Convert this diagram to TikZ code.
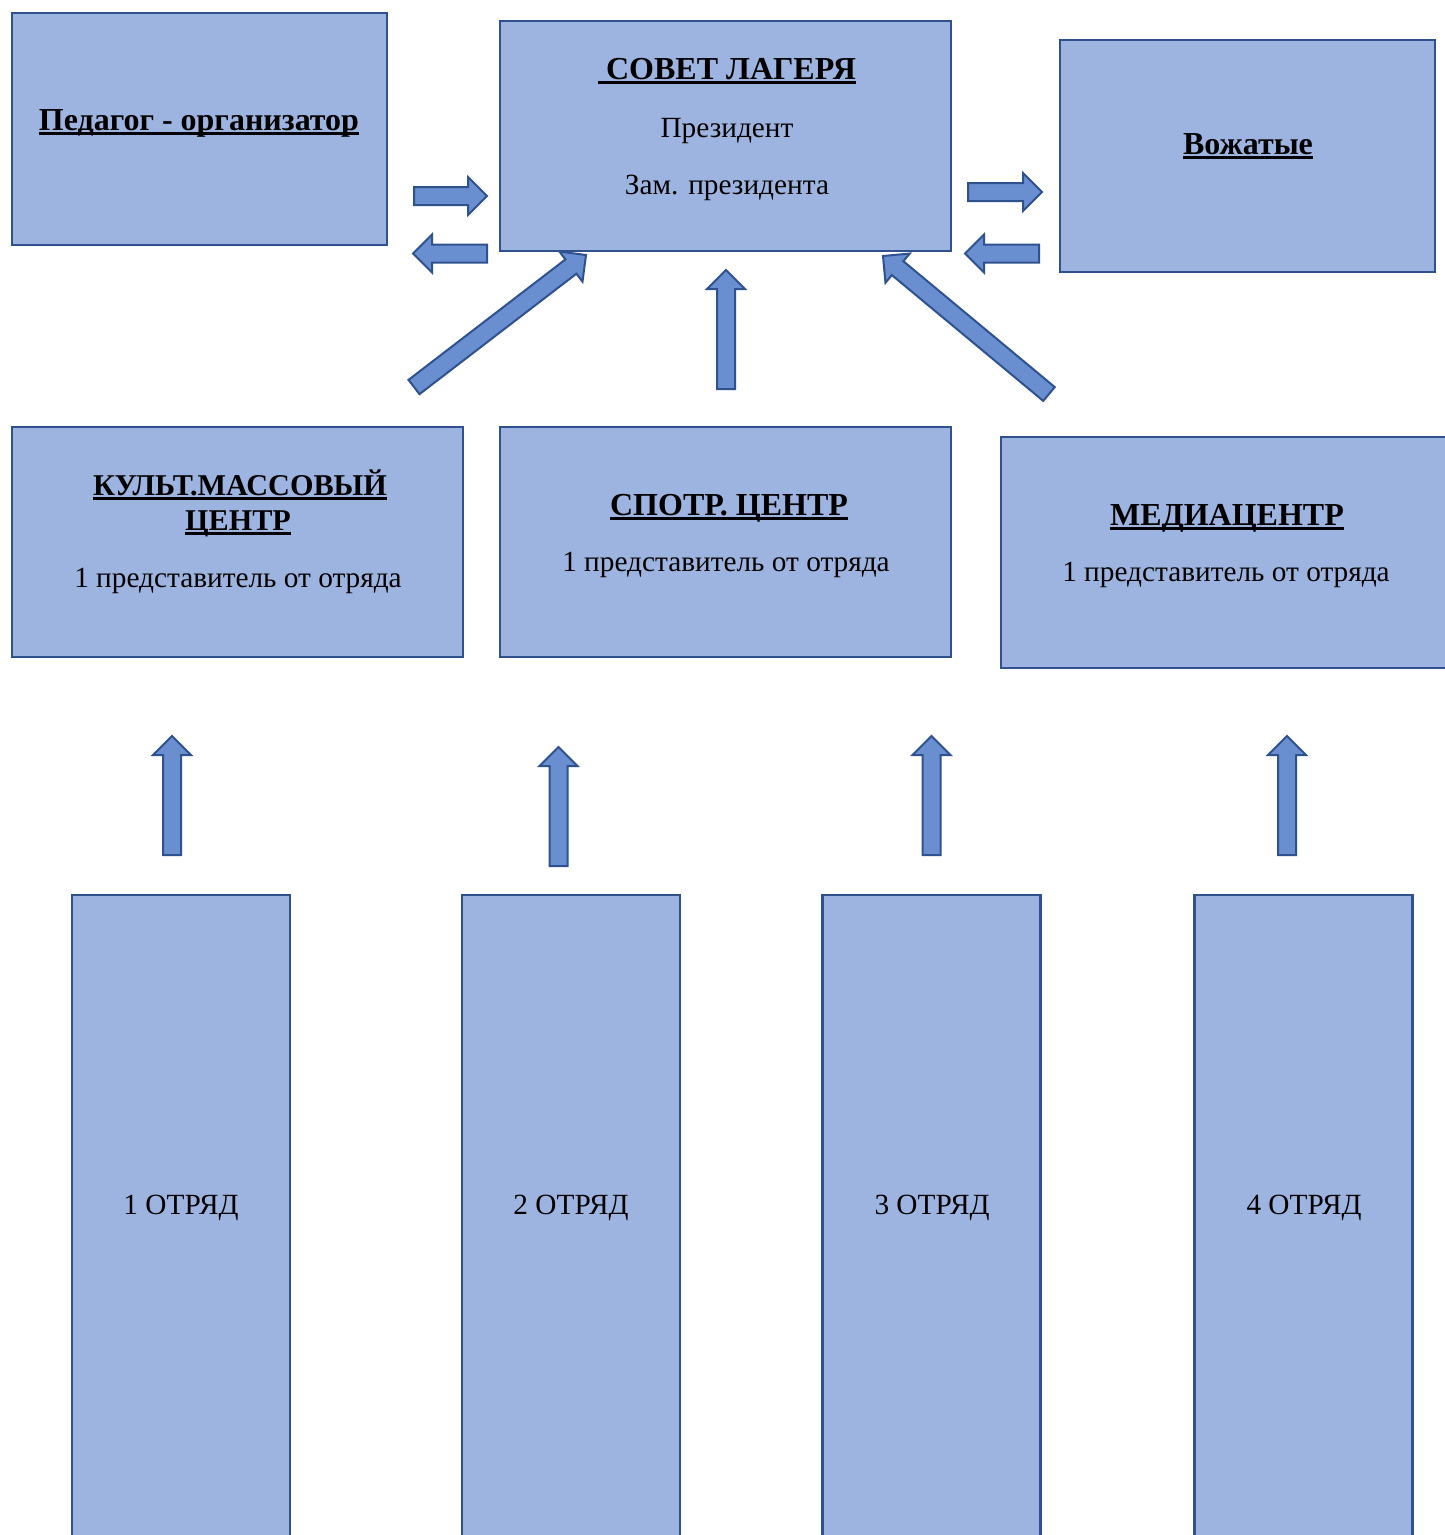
\documentclass[tikz,border=0pt]{standalone}
\usepackage{fontspec}
\setmainfont{Liberation Serif}
\usetikzlibrary{calc}
\definecolor{boxfill}{RGB}{158,180,224}
\definecolor{boxdraw}{RGB}{47,82,143}
\definecolor{arrfill}{RGB}{105,143,208}
\newcommand\ulx[1]{\setbox0\hbox{#1}\rlap{\rule[-4.5pt]{\wd0}{3pt}}\box0}
\newcommand\blockarr[2]{%
  \path ($(#2)!19pt!(#1)$) coordinate (hb);
  \filldraw[arrstyle]
    ($(#1)!9pt!90:(#2)$) -- ($(hb)!9pt!-90:(#1)$) -- ($(hb)!19pt!-90:(#1)$) -- (#2)
    -- ($(hb)!19pt!90:(#1)$) -- ($(hb)!9pt!90:(#1)$) -- ($(#1)!9pt!-90:(#2)$) -- cycle;}
\tikzset{
  box/.style={draw=boxdraw, fill=boxfill, line width=2.5pt, inner sep=0pt},
  arrstyle/.style={draw=boxdraw, fill=arrfill, line width=2pt, line join=miter},
  hd/.style={anchor=base, inner sep=0pt, font=\fontsize{32}{36}\selectfont\bfseries},
  hdk/.style={anchor=base, inner sep=0pt, font=\fontsize{30.2}{34}\selectfont\bfseries},
  tx/.style={anchor=base, inner sep=0pt, font=\fontsize{29.3}{33}\selectfont},
  ts/.style={anchor=base, inner sep=0pt, font=\fontsize{29.3}{33}\selectfont},
}
\begin{document}
\begin{tikzpicture}[x=1pt,y=-1pt]
\useasboundingbox (0,0) rectangle (1445,1535);
\clip (0,0) rectangle (1445,1535);
\fill[white] (0,0) rectangle (1445,1535);
% boxes
\node[box, minimum width=375pt, minimum height=232pt] (ped) at (199.5,129) {};
\node[box, minimum width=451pt, minimum height=230pt] (sov) at (725.5,136) {};
\node[box, minimum width=375pt, minimum height=232pt] (voz) at (1247.5,156) {};
\node[box, minimum width=451pt, minimum height=230pt] (kult) at (237.5,542) {};
\node[box, minimum width=451pt, minimum height=230pt] (sport) at (725.5,542) {};
\node[box, minimum width=452pt, minimum height=231pt] (media) at (1227,552.5) {};
\node[box, minimum width=218pt, minimum height=660pt] (o1) at (181,1225) {};
\node[box, minimum width=218pt, minimum height=660pt] (o2) at (571,1225) {};
\node[box, minimum width=218pt, minimum height=660pt] (o3) at (931.5,1225) {};
\node[box, minimum width=218pt, minimum height=660pt] (o4) at (1303.5,1225) {};
% texts
\node[hd] (tped) at (199,130) {\ulx{Педагог - организатор}};
\node[hd] (tsov) at (727,79) {\ulx{\ СОВЕТ ЛАГЕРЯ}};
\node[ts] (tpres) at (727,137) {Президент};
\node[ts] (tzam) at (727,194) {Зам. президента};
\node[hd] (tvoz) at (1248,154) {\ulx{Вожатые}};
\node[hdk] (tk1) at (240,495) {\ulx{КУЛЬТ.МАССОВЫЙ}};
\node[hdk] (tk2) at (238,530) {\ulx{ЦЕНТР}};
\node[tx] (tk3) at (238,587) {1 представитель от отряда};
\node[hd] (ts1) at (729,515) {\ulx{СПОТР. ЦЕНТР}};
\node[tx] (ts2) at (726,571) {1 представитель от отряда};
\node[hd] (tm1) at (1227,525) {\ulx{МЕДИАЦЕНТР}};
\node[tx] (tm2) at (1226,581) {1 представитель от отряда};
\node[ts] (to1) at (181,1214) {1 ОТРЯД};
\node[ts] (to2) at (571,1214) {2 ОТРЯД};
\node[ts] (to3) at (932,1214) {3 ОТРЯД};
\node[ts] (to4) at (1304,1214) {4 ОТРЯД};
% arrow coordinates
\coordinate (a1t) at (414,196);  \coordinate (a1h) at (487,196);
\coordinate (a2t) at (487,253.5);\coordinate (a2h) at (413,253.5);
\coordinate (a3t) at (968,192);  \coordinate (a3h) at (1042,192);
\coordinate (a4t) at (1039,253.5);\coordinate (a4h) at (965,253.5);
\coordinate (d1t) at (414,387);  \coordinate (d1h) at (586,255);
\coordinate (d2t) at (1049,394); \coordinate (d2h) at (883,256);
\coordinate (m1t) at (726,389);  \coordinate (m1h) at (726,270);
\coordinate (u1t) at (172,855);  \coordinate (u1h) at (172,736);
\coordinate (u2t) at (558.5,866);\coordinate (u2h) at (558.5,747);
\coordinate (u3t) at (931.5,855);\coordinate (u3h) at (931.5,736);
\coordinate (u4t) at (1287,855); \coordinate (u4h) at (1287,736);
\blockarr{a1t}{a1h}
\blockarr{a2t}{a2h}
\blockarr{a3t}{a3h}
\blockarr{a4t}{a4h}
\blockarr{d1t}{d1h}
\blockarr{d2t}{d2h}
\blockarr{m1t}{m1h}
\blockarr{u1t}{u1h}
\blockarr{u2t}{u2h}
\blockarr{u3t}{u3h}
\blockarr{u4t}{u4h}
\end{tikzpicture}
\end{document}
